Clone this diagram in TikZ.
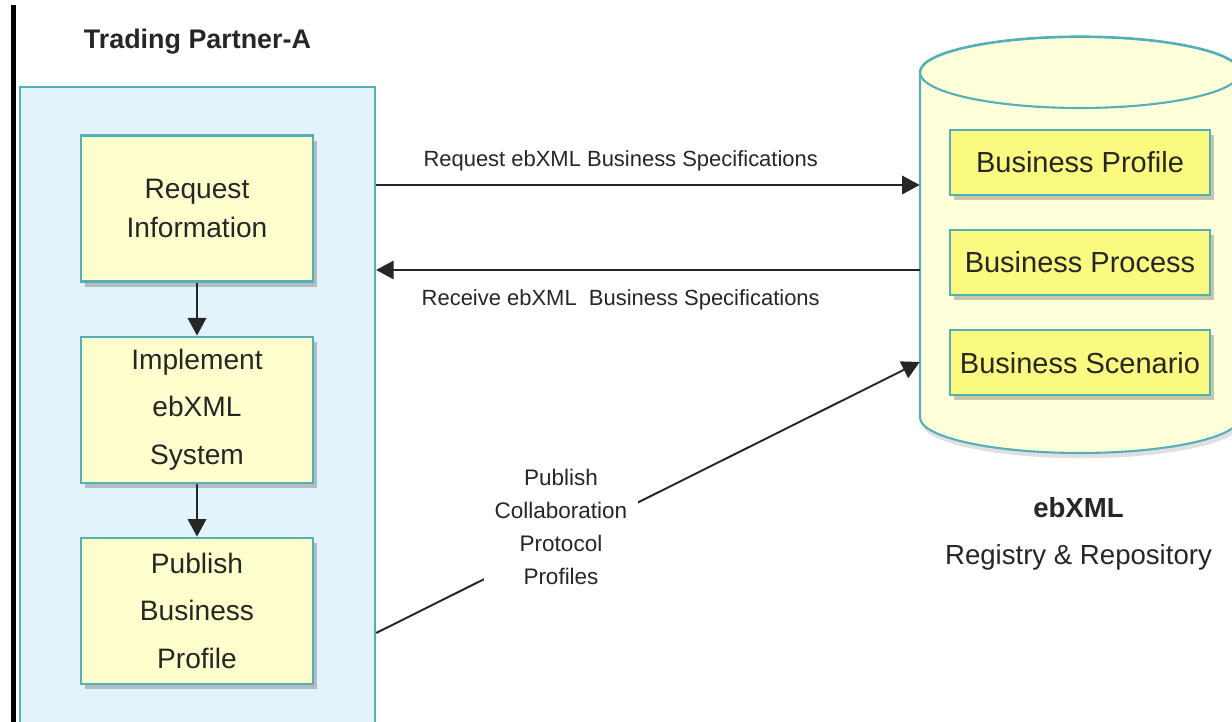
\documentclass[tikz,border=0pt]{standalone}
\usepackage{fontspec}
\setmainfont{Liberation Sans}
\usetikzlibrary{positioning,arrows.meta,shadows}

\definecolor{tealline}{RGB}{84,176,184}
\definecolor{partnerblue}{RGB}{226,243,251}
\definecolor{paleyellow}{RGB}{255,255,206}
\definecolor{cylyellow}{RGB}{255,255,218}
\definecolor{docyellow}{RGB}{250,250,128}
\definecolor{inkgray}{RGB}{38,38,38}

\tikzset{
  boxshadow/.style={drop shadow={shadow xshift=2pt,shadow yshift=-3pt,fill=black,opacity=0.22}},
  stepbox/.style={draw=tealline,line width=1.2pt,fill=paleyellow,boxshadow,minimum width=4.64cm,minimum height=2.92cm,align=center,text=inkgray,font=\fontsize{16}{27}\selectfont},
  docbox/.style={draw=tealline,line width=1.2pt,fill=docyellow,boxshadow,minimum width=5.2cm,minimum height=1.3cm,text=inkgray,font=\fontsize{16.5}{20}\selectfont},
  flow/.style={draw=inkgray,line width=1.1pt,-{Triangle[length=10pt,width=10.5pt]}},
  msg/.style={text=inkgray,font=\fontsize{12.5}{15}\selectfont}
}

\begin{document}
\begin{tikzpicture}
  \useasboundingbox (0,0) rectangle (24.64,14.44);
  \clip (0,0) rectangle (24.64,14.44);

  \draw[line width=2.5pt] (0.27,14.34) -- (0.27,-0.1);

  % trading partner
  \node[draw=tealline,line width=1.3pt,fill=partnerblue,minimum width=7.1cm,minimum height=13cm] (partner) at (3.95,6.2) {};
  \node[above=0.5cm of partner.north,font=\fontsize{15.3}{18}\selectfont\bfseries,text=inkgray] (ttl) {Trading Partner-A};

  \node[stepbox,font=\fontsize{16}{22}\selectfont] (req) at (3.94,10.27) {Request\\Information};
  \node[stepbox,below=1.06cm of req] (impl) {Implement\\ebXML\\System};
  \node[stepbox,below=1.06cm of impl] (pub) {Publish\\Business\\Profile};

  \draw[flow] (req) -- (impl);
  \draw[flow] (impl) -- (pub);

  % registry cylinder
  \filldraw[draw=tealline,line width=1.2pt,fill=cylyellow,drop shadow={shadow xshift=1pt,shadow yshift=-3pt,fill=black,opacity=0.12}]
    (18.4,13.0) -- (18.4,6.09) arc[start angle=180,end angle=360,x radius=3.2,y radius=0.71]
    -- (24.8,13.0) arc[start angle=0,end angle=180,x radius=3.2,y radius=0.71] -- cycle;
  \draw[draw=tealline,line width=1.2pt] (21.6,12.99) ellipse[x radius=3.2,y radius=0.71];
  \node[minimum width=6.4cm,minimum height=8.3cm,inner sep=0pt] (repo) at (21.6,9.53) {};

  \node[docbox] (bprof) at (21.6,11.19) {Business Profile};
  \node[docbox,below=0.66cm of bprof] (bproc) {Business Process};
  \node[docbox,below=0.66cm of bproc] (bscen) {Business Scenario};

  \node[align=center,text=inkgray,font=\fontsize{15.7}{27}\selectfont] (regname) at (21.57,3.76)
    {{\bfseries ebXML}\\Registry \& Repository};

  % messages
  \draw[flow] (partner.east |- 0,10.74) -- node[msg,pos=0.45,above=4pt] (reqmsg) {Request ebXML Business Specifications} (repo.west |- 0,10.74);
  \draw[flow] (repo.west |- 0,9.04) -- node[msg,pos=0.55,below=7pt] (recmsg) {Receive ebXML\ \ Business Specifications} (partner.east |- 0,9.04);
  \draw[flow] (partner.east |- 0,1.78) -- (repo.west |- 0,7.2);
  \node[msg,fill=white,align=center,inner sep=6pt,font=\fontsize{12.8}{18.7}\selectfont] (cpp) at (11.22,3.9)
    {Publish\\Collaboration\\Protocol\\Profiles};
\end{tikzpicture}
\end{document}
